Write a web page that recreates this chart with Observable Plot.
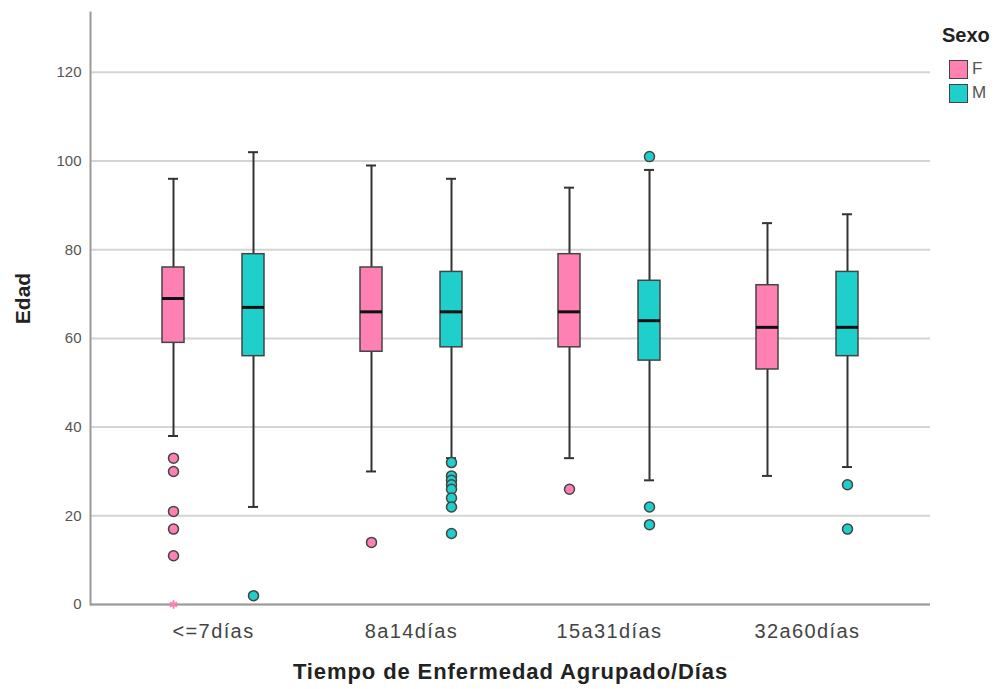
<!DOCTYPE html>
<html><head><meta charset="utf-8">
<script src="https://cdn.jsdelivr.net/npm/d3@7"></script>
<script src="https://cdn.jsdelivr.net/npm/@observablehq/plot@0.6"></script>
<style>
body{margin:0;background:#fff;font-family:"Liberation Sans",Arial,sans-serif;}
#wrap{position:relative;width:1002px;height:689px;overflow:hidden;}
#legend{position:absolute;left:942px;top:24px;color:#555;}
#legend .title{font-weight:bold;font-size:20px;color:#222;margin-bottom:10px;}
#legend .row{display:flex;align-items:center;height:24px;margin-left:7px;font-size:17px;}
#legend .sw{width:17px;height:17px;border:1.5px solid #444;margin-right:4px;}
</style></head><body><div id="wrap"><div id="chart"></div><div id="legend"></div></div>
<script>
const categories = ["<=7días", "8a14días", "15a31días", "32a60días"];
const sexes = ["F", "M"];
const sexColors = ["#FF80B3", "#1FCFCC"];
const yTicks = [0, 20, 40, 60, 80, 100, 120];
// values per category: [F, M]
const whiskerHigh = [[96, 102], [99, 96], [94, 98], [86, 88]];
const q3 = [[76, 79], [76, 75], [79, 73], [72, 75]];
const median = [[69, 67], [66, 66], [66, 64], [62.5, 62.5]];
const q1 = [[59, 56], [57, 58], [58, 55], [53, 56]];
const whiskerLow = [[38, 22], [30, 33], [33, 28], [29, 31]];
const outliers = [[[33, 30, 21, 17, 11], [2]], [[14], [32, 29, 28, 27, 26, 24, 22, 16]], [[26], [101, 22, 18]], [[], [27, 17]]];
const extremes = [[[0], []], [[], []], [[], []], [[], []]];

const boxes = [];
const points = [];
const stars = [];
categories.forEach((c, i) => sexes.forEach((s, j) => {
  boxes.push({cat: c, sex: s, lo: whiskerLow[i][j], q1: q1[i][j], med: median[i][j], q3: q3[i][j], hi: whiskerHigh[i][j]});
  outliers[i][j].forEach(v => points.push({cat: c, sex: s, v}));
  extremes[i][j].forEach(v => stars.push({cat: c, sex: s, v}));
}));

const offsets = {F: -40, M: 40};
const marks = [
  Plot.gridY(yTicks, {stroke: "#d4d4d4", strokeOpacity: 1, strokeWidth: 2}),
  Plot.ruleY([0], {stroke: "#9a9a9a", strokeWidth: 2}),
  Plot.frame({anchor: "left", stroke: "#9a9a9a", strokeWidth: 2}),
  Plot.axisY(yTicks, {tickSize: 0, tickPadding: 9, fontSize: 15, fill: "#555", label: "Edad", labelAnchor: "center", labelOffset: 75}),
  Plot.axisX({tickSize: 0, tickPadding: 19, fontSize: 20, fill: "#444", label: "Tiempo de Enfermedad Agrupado/Días", labelAnchor: "center", labelOffset: 74})
];
sexes.forEach((s, j) => {
  const b = boxes.filter(d => d.sex === s);
  const dx = offsets[s];
  marks.push(
    Plot.ruleX(b, {x: "cat", y1: "lo", y2: "hi", dx, stroke: "#333", strokeWidth: 2}),
    Plot.tickY(b, {x: "cat", y: "hi", dx, stroke: "#333", strokeWidth: 2, insetLeft: 94, insetRight: 94}),
    Plot.tickY(b, {x: "cat", y: "lo", dx, stroke: "#333", strokeWidth: 2, insetLeft: 94, insetRight: 94}),
    Plot.barY(b, {x: "cat", y1: "q1", y2: "q3", dx, fill: sexColors[j], stroke: "#444", strokeWidth: 1.5, insetLeft: 88, insetRight: 88}),
    Plot.tickY(b, {x: "cat", y: "med", dx, stroke: "#111", strokeWidth: 3, insetLeft: 88, insetRight: 88}),
    Plot.dot(points.filter(d => d.sex === s), {x: "cat", y: "v", dx, r: 5, fill: sexColors[j], stroke: "#444", strokeWidth: 1.5}),
    Plot.dot(stars.filter(d => d.sex === s), {x: "cat", y: "v", dx, r: 4, symbol: "asterisk", stroke: sexColors[j], strokeWidth: 2})
  );
});

const chart = Plot.plot({
  width: 1002,
  height: 689,
  marginLeft: 90,
  marginRight: 72,
  marginTop: 12,
  marginBottom: 85,
  style: {fontFamily: "Liberation Sans, Arial, sans-serif", background: "#fff"},
  x: {type: "band", domain: categories, paddingInner: 0, paddingOuter: 0.12},
  y: {domain: [0, 133.5]},
  marks
});
// axis titles: bold, no arrow
chart.querySelectorAll("g[aria-label='y-axis label'] text").forEach(t => {
  t.textContent = "Edad";
  t.style.fontWeight = "bold"; t.style.fontSize = "21px"; t.setAttribute("fill", "#222");
  t.setAttribute("dx", "10");
});
chart.querySelectorAll("g[aria-label='x-axis label'] text").forEach(t => {
  t.style.fontWeight = "bold"; t.style.fontSize = "22px"; t.style.letterSpacing = "0.9px"; t.setAttribute("fill", "#222");
});
chart.querySelectorAll("g[aria-label='x-axis tick label'] text").forEach(t => {
  t.style.letterSpacing = "1.4px";
});
document.getElementById("chart").appendChild(chart);

const legend = document.getElementById("legend");
const title = document.createElement("div");
title.className = "title"; title.textContent = "Sexo";
legend.appendChild(title);
sexes.forEach((s, j) => {
  const row = document.createElement("div"); row.className = "row";
  const sw = document.createElement("div"); sw.className = "sw"; sw.style.background = sexColors[j];
  const lab = document.createElement("span"); lab.textContent = s;
  row.appendChild(sw); row.appendChild(lab); legend.appendChild(row);
});
</script></body></html>
